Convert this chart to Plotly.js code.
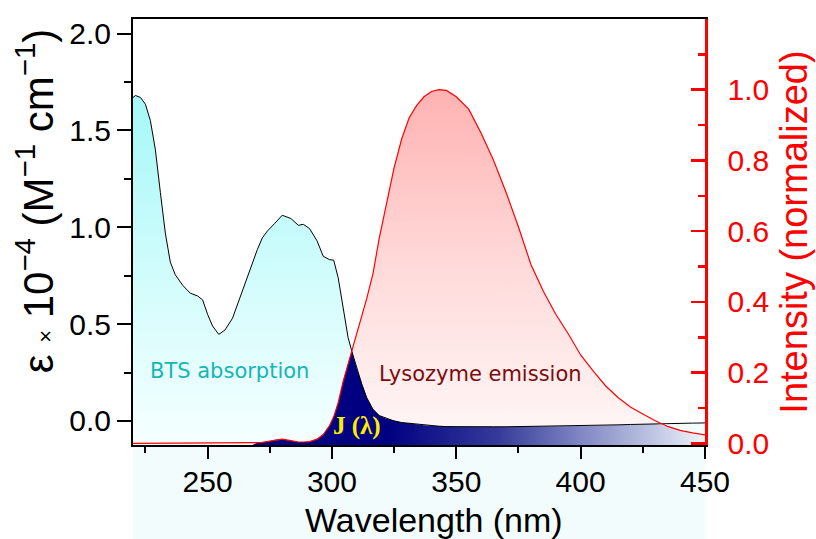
<!DOCTYPE html>
<html>
<head>
<meta charset="utf-8">
<script src="https://cdn.plot.ly/plotly-3.0.1.min.js"></script>
<style>html,body{margin:0;padding:0;background:#fff;}#chart{width:816px;height:539px;}</style>
</head>
<body>
<div id="chart"></div>
<script>
// Wavelength grid (nm)
const wavelength = [220, 221, 223, 225, 227, 229, 231, 233, 235, 237, 240, 243, 246, 248, 250, 252, 254.5, 257, 260, 264, 268, 270, 272, 274, 277, 280, 283.5, 286.5, 288.5, 291, 294, 296.5, 299, 300.7, 302.5, 304.5, 306.5, 308, 310, 312, 314, 316.5, 319, 322, 325, 328, 331, 334, 337, 340, 343, 346, 350, 355, 360, 365, 370, 375, 380, 385, 390, 395, 400, 405, 410, 415, 420, 425, 430, 435, 440, 445, 450];
// BTS absorption, epsilon x 10^-4 (M^-1 cm^-1)
const absorption = [1.67, 1.68, 1.67, 1.635, 1.55, 1.40, 1.18, 0.97, 0.82, 0.755, 0.70, 0.66, 0.645, 0.625, 0.55, 0.49, 0.447, 0.47, 0.53, 0.67, 0.82, 0.885, 0.945, 0.98, 1.02, 1.062, 1.045, 1.01, 1.015, 0.993, 0.93, 0.85, 0.833, 0.83, 0.74, 0.585, 0.43, 0.36, 0.27, 0.19, 0.12, 0.06, 0.028, 0.012, 0.0, -0.008, -0.012, -0.018, -0.022, -0.025, -0.027, -0.029, -0.03, -0.03, -0.031, -0.03, -0.03, -0.029, -0.029, -0.028, -0.028, -0.027, -0.026, -0.024, -0.022, -0.02, -0.018, -0.016, -0.014, -0.013, -0.012, -0.011, -0.01];
// Lysozyme emission, normalized intensity
const emission = [0, 0, 0, 0, 0, 0, 0, 0, 0, 0, 0, 0, 0, 0, 0, 0, 0, 0, 0, 0, 0, 0.002, 0.003, 0.005, 0.010, 0.012, 0.008, 0.004, 0.004, 0.005, 0.012, 0.025, 0.05, 0.075, 0.115, 0.175, 0.225, 0.262, 0.305, 0.355, 0.41, 0.48, 0.58, 0.68, 0.78, 0.86, 0.92, 0.955, 0.98, 0.995, 1.0, 0.998, 0.98, 0.945, 0.877, 0.80, 0.71, 0.612, 0.506, 0.43, 0.365, 0.31, 0.25, 0.205, 0.163, 0.13, 0.103, 0.083, 0.064, 0.048, 0.037, 0.03, 0.024];

const xTicks = [250, 300, 350, 400, 450];
const xMinor = [225, 275, 325, 375, 425];
const yTicks = [0, 0.5, 1.0, 1.5, 2.0];
const yMinor = [0.25, 0.75, 1.25, 1.75];
const y2Ticks = [0, 0.2, 0.4, 0.6, 0.8, 1.0];
const y2Minor = [0.1, 0.3, 0.5, 0.7, 0.9, 1.1, 1.2];

const L = [-0.124, 2.075];
const R = [-0.0045, 1.2];
const toLeft = e => L[0] + (e - R[0]) / (R[1] - R[0]) * (L[1] - L[0]);
const emLeft = emission.map(toLeft);
const overlap = absorption.map((a, i) => emission[i] > 0 ? Math.min(a, emLeft[i]) : L[0]);
const xClosed = wavelength.concat([wavelength[wavelength.length - 1], wavelength[0]]);
const closeY = arr => arr.concat([L[0], L[0]]);

const FONT = 'Liberation Sans, Arial, sans-serif';

const traces = [
  { x: xClosed, y: closeY(absorption), type: 'scatter', mode: 'lines', fill: 'toself',
    line: { width: 0, color: 'rgba(0,0,0,0)' }, hoverinfo: 'skip', showlegend: false,
    fillgradient: { type: 'vertical', start: L[0], stop: 1.7,
      colorscale: [[0, '#f6ffff'], [0.5, '#d0fcfc'], [1, '#a4f8f8']] } },
  { x: xClosed, y: closeY(emLeft), type: 'scatter', mode: 'lines', fill: 'toself',
    line: { width: 0, color: 'rgba(0,0,0,0)' }, hoverinfo: 'skip', showlegend: false,
    fillgradient: { type: 'vertical', start: L[0], stop: toLeft(1.0),
      colorscale: [[0, '#fff8f8'], [0.5, '#ffdada'], [1, '#ffb2b2']] } },
  { x: xClosed, y: closeY(overlap), type: 'scatter', mode: 'lines', fill: 'toself',
    line: { width: 0, color: 'rgba(0,0,0,0)' }, hoverinfo: 'skip', showlegend: false,
    fillgradient: { type: 'horizontal', start: 322, stop: 450,
      colorscale: [[0, '#000080'], [0.35, '#353a9a'], [0.6, '#7d84c2'], [0.85, '#c2c9e4'], [1, '#eef5fa']] } },
  { x: wavelength, y: absorption, type: 'scatter', mode: 'lines', name: 'BTS absorption',
    line: { color: '#000000', width: 1 }, showlegend: false },
  { x: wavelength, y: emission, type: 'scatter', mode: 'lines', name: 'Lysozyme emission', yaxis: 'y2',
    line: { color: '#ff0000', width: 1.2 }, showlegend: false }
];

const layout = {
  width: 816, height: 539,
  margin: { l: 133, r: 111, t: 19, b: 94 },
  paper_bgcolor: '#ffffff', plot_bgcolor: '#ffffff',
  font: { family: FONT, color: '#000' },
  showlegend: false,
  xaxis: {
    range: [220, 450], tickvals: xTicks, ticks: 'outside', ticklen: 12, tickwidth: 2, tickcolor: '#000',
    minor: { tickvals: xMinor, ticks: 'outside', ticklen: 6, tickwidth: 2, tickcolor: '#000' },
    showline: true, linewidth: 2, linecolor: '#000', mirror: true,
    showgrid: false, zeroline: false, ticklabelstandoff: -3,
    tickfont: { size: 30, family: FONT, color: '#000' }
  },
  yaxis: {
    range: L, tickvals: yTicks, tickformat: '.1f', ticks: 'outside', ticklen: 14, tickwidth: 2, tickcolor: '#000',
    minor: { tickvals: yMinor, ticks: 'outside', ticklen: 7, tickwidth: 2, tickcolor: '#000' },
    showline: true, linewidth: 2, linecolor: '#000',
    showgrid: false, zeroline: false,
    tickfont: { size: 30, family: FONT, color: '#000' }
  },
  yaxis2: {
    range: R, overlaying: 'y', side: 'right', anchor: 'x',
    tickvals: y2Ticks, tickformat: '.1f', ticks: 'inside', ticklen: 14, tickwidth: 2.5, tickcolor: '#ff0000',
    minor: { tickvals: y2Minor, ticks: 'inside', ticklen: 7, tickwidth: 2.5, tickcolor: '#ff0000' },
    showline: true, linewidth: 2.5, linecolor: '#ff0000',
    showgrid: false, zeroline: false, ticklabelstandoff: 14,
    tickfont: { size: 30, family: FONT, color: '#ff0000' },
    title: { text: 'Intensity (normalized)', font: { size: 38, family: FONT, color: '#ff0000' }, standoff: 12 }
  },
  shapes: [
    { type: 'rect', xref: 'paper', yref: 'paper', x0: 0, x1: 1, y0: -0.221, y1: 0,
      fillcolor: '#f2fcfc', line: { width: 0 }, layer: 'below' }
  ],
  annotations: [
    { xref: 'paper', yref: 'paper', x: -0.17, y: 0.574, xanchor: 'center', yanchor: 'middle',
      textangle: -90, showarrow: false,
      text: 'ε <span style="font-size:22px">×</span> 10<sup>−4</sup> (M<sup>−1</sup> cm<sup>−1</sup>)',
      font: { size: 42, family: FONT, color: '#000' } },
    { xref: 'paper', yref: 'paper', x: 0.526, y: -0.176, xanchor: 'center', yanchor: 'middle',
      showarrow: false, text: 'Wavelength (nm)',
      font: { size: 34, family: FONT, color: '#000' } },
    { x: 259, y: 0.26, xref: 'x', yref: 'y', showarrow: false, text: 'BTS absorption',
      font: { size: 21, family: 'DejaVu Sans, Verdana, sans-serif', color: '#14b6b6' } },
    { x: 359.7, y: 0.24, xref: 'x', yref: 'y', showarrow: false, text: 'Lysozyme emission',
      font: { size: 21, family: 'DejaVu Sans, Verdana, sans-serif', color: '#7b0c0c' } },
    { x: 310, y: -0.025, xref: 'x', yref: 'y', showarrow: false, text: '<b>J (λ)</b>',
      font: { size: 25, family: 'Liberation Serif, Times New Roman, serif', color: '#ffee00' } }
  ]
};

Plotly.newPlot('chart', traces, layout, { staticPlot: true, displayModeBar: false });
</script>
</body>
</html>
